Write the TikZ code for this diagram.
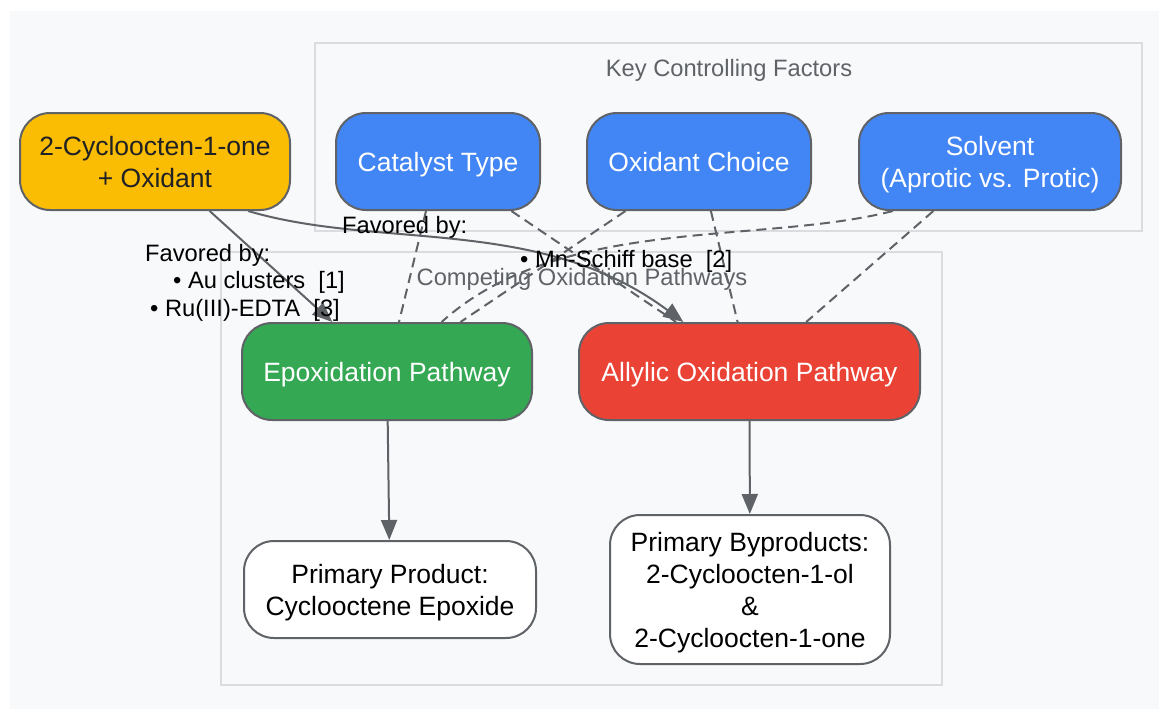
\documentclass[tikz,border=0pt]{standalone}
\usepackage{fontspec}
\setmainfont{Liberation Sans}
\usetikzlibrary{arrows.meta}
\definecolor{edgegray}{HTML}{5F6368}
\definecolor{bggray}{HTML}{F8F9FA}
\definecolor{boxgray}{HTML}{DADCE0}
\definecolor{ryellow}{HTML}{FBBC04}
\definecolor{fblue}{HTML}{4285F4}
\definecolor{pgreen}{HTML}{34A853}
\definecolor{pred}{HTML}{EA4335}
\definecolor{txtdark}{HTML}{202124}

\begin{document}
\begin{tikzpicture}[x=1pt, y=-1pt,
		box/.style={draw=edgegray, line width=2pt, rounded corners=30pt, align=center, inner sep=0pt, text depth=0pt, minimum height=97pt, font=\fontsize{26.5}{32}\selectfont},
		group/.style={draw=boxgray, line width=2pt, fill=bggray},
		grouptitle/.style={text=edgegray, inner sep=0pt, font=\fontsize{23.7}{28}\selectfont},
		lbl/.style={align=left, inner sep=0pt, anchor=north west, font=\fontsize{23.7}{27.5}\selectfont},
		flow/.style={draw=edgegray, line width=2pt, -{Triangle[length=20pt,width=16pt]}},
		factor/.style={draw=edgegray, line width=2pt, dash pattern=on 10pt off 6pt}]
		\useasboundingbox (0,0) rectangle (1159,709);
		\fill[white] (0,0) rectangle (1159,709);
		\fill[bggray] (10,11) rectangle (1159,709);

		\draw[group] (315,43) rectangle (1142,231);
		\draw[group] (221,252) rectangle (942,685);
		\node[grouptitle] (kcf) at (729,70.5) {Key Controlling Factors};
		\node[grouptitle] (cop) at (582,279)  {Competing Oxidation Pathways};

		\node[box, fill=ryellow, text=txtdark, minimum width=270pt] (re)  at (155,161.5) {2-Cycloocten-1-one\\+ Oxidant};
		\node[box, fill=fblue, text=white, minimum width=204pt]     (cat) at (438,161.5) {Catalyst Type};
		\node[box, fill=fblue, text=white, minimum width=224pt]     (oxc) at (699,161.5) {Oxidant Choice};
		\node[box, fill=fblue, text=white, minimum width=262pt]     (sol) at (990,161.5) {Solvent\\(Aprotic vs. Protic)};
		\node[box, fill=pgreen, text=white, minimum width=290pt]    (ep)  at (387,371.5) {Epoxidation Pathway};
		\node[box, fill=pred, text=white, minimum width=341pt]      (al)  at (749.5,371.5) {Allylic Oxidation Pathway};
		\node[box, fill=white, text=black, minimum width=292pt]     (pp)  at (390,589.5) {Primary Product:\\Cyclooctene Epoxide};
		\node[box, fill=white, text=black, minimum width=280pt, minimum height=149pt] (bp) at (750,589.5) {Primary Byproducts:\\2-Cycloocten-1-ol\\\&\\2-Cycloocten-1-one};

		\draw[flow] (re) to (ep);
		\draw[flow] (re.-28) .. controls (380,250) and (540,215) .. (al);
		\draw[flow] (ep) to (pp);
		\draw[flow] (al) to (bp);

		\draw[factor] (cat) to (ep);
		\draw[factor] (cat) to (al);
		\draw[factor] (oxc) to (ep);
		\draw[factor] (oxc) to (al);
		\draw[factor] (sol.-153) .. controls (760,245) and (560,215) .. (ep);
		\draw[factor] (sol) to (al);

		\node[lbl] (fav1) at (145,244) {Favored by:\\\hspace*{28pt}• Au clusters\ \ [1]\\\hspace*{5pt}• Ru(III)-EDTA\ \ [3]};
		\node[lbl] (fav2) at (342,216) {Favored by:\\[6.5pt]\hspace*{178pt}• Mn-Schiff base\ \ [2]};
	\end{tikzpicture}
\end{document}
